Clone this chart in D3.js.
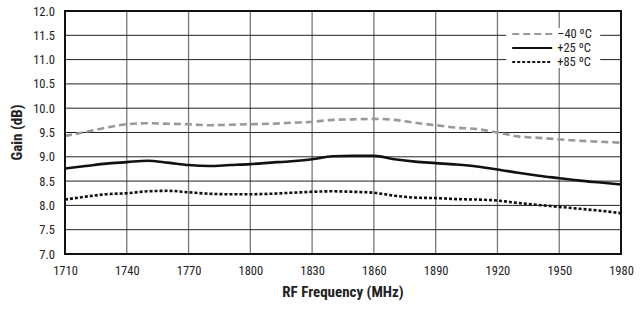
<!DOCTYPE html>
<meta charset="utf-8">
<body style="margin:0;background:#fff">
<script src="https://d3js.org/d3.v7.min.js"></script>
<div id="chart"></div>
<script>

// Data
var freq = [1710,1720,1730,1740,1750,1760,1770,1780,1790,1800,1810,1820,1830,1840,
            1850,1860,1870,1880,1890,1900,1910,1920,1930,1940,1950,1960,1970,1980];
var gainM40 = [9.43,9.51,9.60,9.67,9.69,9.68,9.67,9.65,9.66,9.67,9.68,9.70,9.72,9.76,
               9.77,9.78,9.76,9.70,9.65,9.60,9.57,9.50,9.42,9.39,9.36,9.33,9.31,9.29];
var gainP25 = [8.76,8.81,8.86,8.89,8.92,8.88,8.83,8.81,8.83,8.85,8.88,8.91,8.95,9.01,
               9.02,9.02,8.95,8.90,8.87,8.84,8.80,8.74,8.67,8.61,8.56,8.51,8.47,8.43];
var gainP85 = [8.12,8.18,8.23,8.25,8.29,8.30,8.27,8.24,8.23,8.23,8.24,8.26,8.28,8.29,
               8.28,8.26,8.20,8.16,8.15,8.13,8.12,8.10,8.05,8.01,7.97,7.93,7.89,7.84];
var xTicks = [1710,1740,1770,1800,1830,1860,1890,1920,1950,1980];
var yTicks = [7.0,7.5,8.0,8.5,9.0,9.5,10.0,10.5,11.0,11.5,12.0];
var seriesNames = ["\u201340 \u00baC", "+25 \u00baC", "+85 \u00baC"];

var margin = {top: 11, right: 22, bottom: 56, left: 65},
    width = 643 - margin.left - margin.right,
    height = 310 - margin.top - margin.bottom;

var font = "'Liberation Sans Narrow', 'Roboto Condensed', 'Arial Narrow', 'Liberation Sans', sans-serif";

var svg = d3.select("#chart")
  .append("svg")
    .attr("width", 643)
    .attr("height", 310)
    .style("font-family", font)
  .append("g")
    .attr("transform", "translate(" + margin.left + "," + margin.top + ")");

var x = d3.scaleLinear().domain([1710, 1980]).range([0, width]);
var y = d3.scaleLinear().domain([7, 12]).range([height, 0]);

// vertical grid (grey)
svg.append("g")
  .selectAll("line")
  .data(xTicks)
  .join("line")
    .attr("x1", d => x(d)).attr("x2", d => x(d))
    .attr("y1", 0).attr("y2", height)
    .style("stroke", "#777")
    .style("stroke-width", 1.3);

// horizontal grid (dark)
svg.append("g")
  .selectAll("line")
  .data(yTicks)
  .join("line")
    .attr("x1", 0).attr("x2", width)
    .attr("y1", d => y(d)).attr("y2", d => y(d))
    .style("stroke", "#222")
    .style("stroke-width", 1);

// x axis labels
svg.append("g")
  .attr("transform", "translate(0," + height + ")")
  .call(d3.axisBottom(x).tickValues(xTicks).tickSize(0).tickPadding(12).tickFormat(d3.format("d")))
  .call(g => g.select(".domain").remove())
  .selectAll("text")
    .style("font-size", "12.5px")
    .style("font-family", font)
    .style("fill", "#222");

// y axis labels
svg.append("g")
  .call(d3.axisLeft(y).tickValues(yTicks).tickSize(0).tickPadding(10).tickFormat(d3.format(".1f")))
  .call(g => g.select(".domain").remove())
  .selectAll("text")
    .style("font-size", "12.5px")
    .style("font-family", font)
    .style("fill", "#222");

// series
var styles = [
  {data: gainM40, color: "#999", dash: "7,4"},
  {data: gainP25, color: "#111", dash: null},
  {data: gainP85, color: "#111", dash: "3,2"}
];

var line = d3.line()
  .x((d, i) => x(freq[i]))
  .y(d => y(d))
  .curve(d3.curveMonotoneX);

svg.append("g")
  .selectAll("path")
  .data(styles)
  .join("path")
    .attr("d", d => line(d.data))
    .style("fill", "none")
    .style("stroke", d => d.color)
    .style("stroke-width", 2.6)
    .style("stroke-dasharray", d => d.dash);

// legend with white background
var legend = svg.append("g").attr("transform", "translate(" + (x(1950) - 53) + ",17)");
legend.append("rect")
  .attr("x", 0).attr("y", 0)
  .attr("width", 94).attr("height", 40)
  .style("fill", "#fff");

legend.selectAll("line")
  .data(styles)
  .join("line")
    .attr("x1", 6).attr("x2", 46)
    .attr("y1", (d, i) => 6 + i * 14).attr("y2", (d, i) => 6 + i * 14)
    .style("stroke", d => d.color)
    .style("stroke-width", 2)
    .style("stroke-dasharray", d => d.dash);

legend.selectAll("text")
  .data(seriesNames)
  .join("text")
    .attr("x", 51)
    .attr("y", (d, i) => 6 + i * 14)
    .attr("dy", "0.35em")
    .style("font-size", "12.5px")
    .style("fill", "#222")
    .text(d => d);

// frame
svg.append("rect")
  .attr("width", width).attr("height", height)
  .style("fill", "none")
  .style("stroke", "#111")
  .style("stroke-width", 2);

// axis titles
svg.append("text")
  .attr("x", width / 2)
  .attr("y", height + 43)
  .attr("text-anchor", "middle")
  .style("font-size", "15px")
  .style("font-weight", "bold")
  .style("fill", "#222")
  .text("RF Frequency (MHz)");

svg.append("text")
  .attr("transform", "rotate(-90)")
  .attr("x", -height / 2)
  .attr("y", -43)
  .attr("text-anchor", "middle")
  .style("font-size", "15px")
  .style("font-weight", "bold")
  .style("fill", "#222")
  .text("Gain (dB)");

</script>
</body>
